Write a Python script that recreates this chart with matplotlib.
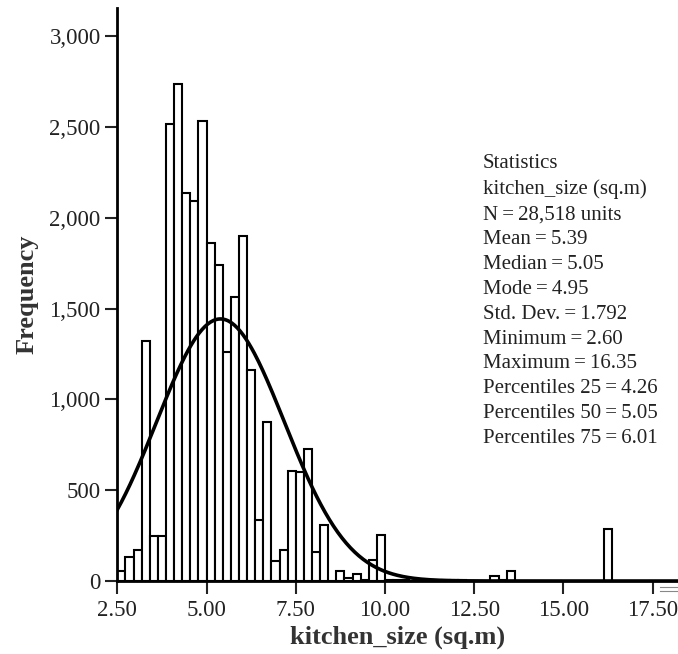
import matplotlib
matplotlib.use('Agg')
import matplotlib.pyplot as plt
import matplotlib.ticker as mticker
import numpy as np

plt.rcParams['font.family'] = ['Liberation Serif', 'DejaVu Serif']

# Histograma de kitchen_size: bins de largura 2.5/11 a partir de 2.5
bin_start = 2.5
bin_width = 2.5 / 11
counts = [55, 130, 170, 1320, 246, 246, 2515, 2735, 2135, 2095,
          2535, 1860, 1740, 1262, 1566, 1900, 1163, 334, 878, 110,
          169, 606, 600, 729, 160, 308, 0, 54, 18, 36,
          5, 118, 256, 3, 3, 3, 2, 3, 5, 5,
          5, 5, 4, 2, 2, 2, 25, 3, 55, 2,
          2, 2, 2, 1, 1, 1, 1, 1, 1, 1,
          289]

# Estatísticas (curva normal ajustada)
n_total = 28518
mean = 5.39
std = 1.792

stats_lines = ['Statistics',
               'kitchen_size (sq.m)',
               'N\u2009=\u200928,518 units',
               'Mean\u2009=\u20095.39',
               'Median\u2009=\u20095.05',
               'Mode\u2009=\u20094.95',
               'Std. Dev.\u2009=\u20091.792',
               'Minimum\u2009=\u20092.60',
               'Maximum\u2009=\u200916.35',
               'Percentiles 25\u2009=\u20094.26',
               'Percentiles 50\u2009=\u20095.05',
               'Percentiles 75\u2009=\u20096.01']

xticks = [2.5, 5.0, 7.5, 10.0, 12.5, 15.0, 17.5]
yticks = [0, 500, 1000, 1500, 2000, 2500, 3000]

fig = plt.figure(figsize=(6.78, 6.54), dpi=100)
ax = fig.add_axes([0.173, 0.1116, 0.827, 0.8762])

lefts = bin_start + np.arange(len(counts)) * bin_width
ax.bar(lefts, counts, width=bin_width, align='edge', color='white',
       edgecolor='black', linewidth=1.5, zorder=2)

# Curva normal escalada para frequência
xs = np.linspace(2.5, 18.3, 400)
ys = n_total * bin_width / (std * np.sqrt(2 * np.pi)) * np.exp(-0.5 * ((xs - mean) / std) ** 2)
ax.plot(xs, ys, color='black', linewidth=2.6, zorder=3)

ax.set_xlim(2.5, 18.21)
ax.set_ylim(0, 3155)
ax.set_xticks(xticks)
ax.set_yticks(yticks)
ax.xaxis.set_major_formatter(mticker.FormatStrFormatter('%.2f'))
ax.yaxis.set_major_formatter(mticker.FuncFormatter(lambda v, p: f'{int(v):,}'))
ax.tick_params(direction='out', length=9, width=1.5, labelsize=16.5, pad=3, colors='#222222')
ax.tick_params(axis='x', pad=5)

for s in ['top', 'right']:
    ax.spines[s].set_visible(False)
for s in ['left', 'bottom']:
    ax.spines[s].set_linewidth(2)

ax.set_xlabel('kitchen_size (sq.m)', fontsize=19, fontweight='bold', color='#333333', labelpad=3)
ax.set_ylabel('Frequency', fontsize=19, fontweight='bold', color='#333333', labelpad=8)

ax.text(0.712, 0.764, '\n'.join(stats_lines), transform=fig.transFigure,
        fontsize=15, va='top', ha='left', linespacing=1.42, color='#222222')

# pequena marca dupla no canto direito do eixo
ax.plot([0.968, 1.0], [-0.010, -0.010], transform=ax.transAxes, color='#888888', lw=0.8, clip_on=False)
ax.plot([0.968, 1.0], [-0.017, -0.017], transform=ax.transAxes, color='#888888', lw=0.8, clip_on=False)

fig.savefig('out.png', dpi=100)
